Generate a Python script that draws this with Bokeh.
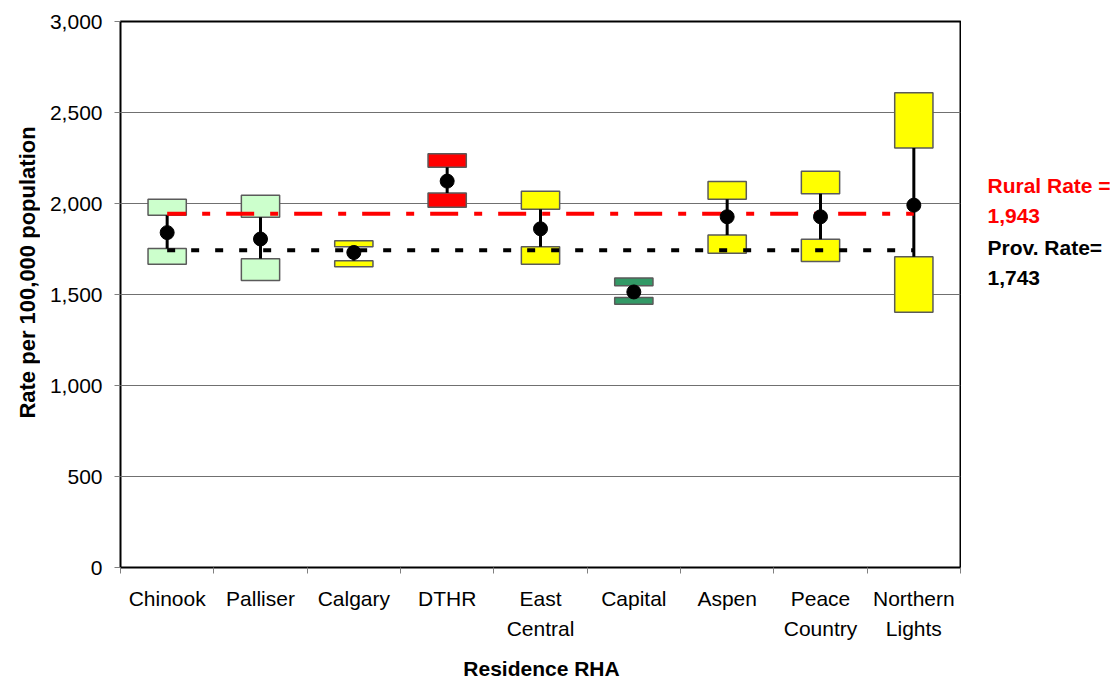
import math
from bokeh.plotting import figure
from bokeh.layouts import row, column
from bokeh.models import ColumnDataSource, FixedTicker, NumeralTickFormatter
from bokeh.core.properties import value
from bokeh.embed import file_html
from bokeh.resources import INLINE

# ---------------- data ----------------
rha = ["Chinook", "Palliser", "Calgary", "DTHR", "East\nCentral", "Capital",
       "Aspen", "Peace\nCountry", "Northern\nLights"]
rate = [1840, 1805, 1731, 2123, 1861, 1514, 1927, 1927, 1991]
upper_top = [2023, 2045, 1795, 2273, 2067, 1590, 2121, 2177, 2609]
upper_bottom = [1936, 1925, 1762, 2199, 1969, 1548, 2023, 2054, 2305]
lower_top = [1753, 1697, 1686, 2058, 1762, 1483, 1827, 1803, 1707]
lower_bottom = [1666, 1577, 1653, 1980, 1666, 1447, 1727, 1682, 1402]
box_colors = ["#CCFFCC", "#CCFFCC", "#FFFF00", "#FF0000", "#FFFF00", "#339966",
              "#FFFF00", "#FFFF00", "#FFFF00"]
rural_rate = 1943
prov_rate = 1743
y_ticks = [0, 500, 1000, 1500, 2000, 2500, 3000]
y_title = "Rate per 100,000 population"
x_title = "Residence RHA"

FONT = "Liberation Sans"
W_TOTAL = 1116
H_TOP = 649                    # height of the row holding the plot
H_BOTTOM = 30                  # strip holding the x-axis title
TOP, BOTTOM = 21, 82           # frame top / bottom borders (px)
Y_RANGE = (0, 3000)
W_LEFT, W_MAIN, W_RIGHT = 40, 921, 155

xc = [i + 0.5 for i in range(len(rha))]
src = ColumnDataSource(dict(x=xc, rate=rate, ut=upper_top, ub=upper_bottom,
                            lt=lower_top, lb=lower_bottom, color=box_colors))


def blank_fig(width, height, x_range, y_range, top=0, bottom=0):
    f = figure(width=width, height=height, x_range=x_range, y_range=y_range,
               output_backend="svg", toolbar_location=None,
               x_axis_location=None, y_axis_location=None,
               min_border_left=0, min_border_right=0,
               min_border_top=top, min_border_bottom=bottom)
    f.grid.visible = False
    f.outline_line_color = None
    f.background_fill_color = "white"
    f.border_fill_color = "white"
    return f


# ---------------- main plot ----------------
p = figure(width=W_MAIN, height=H_TOP, x_range=(0, len(rha)), y_range=Y_RANGE,
           output_backend="svg", toolbar_location=None,
           min_border_left=80, min_border_right=1,
           min_border_top=TOP, min_border_bottom=BOTTOM)
p.background_fill_color = "white"
p.border_fill_color = "white"
p.outline_line_color = "black"
p.outline_line_width = 2

# boxes
p.vbar(x="x", top="ut", bottom="ub", width=0.41, fill_color="color",
       line_color="#5a5a5a", line_width=1.5, source=src)
p.vbar(x="x", top="lt", bottom="lb", width=0.41, fill_color="color",
       line_color="#5a5a5a", line_width=1.5, source=src)
# error lines between boxes
p.segment(x0="x", y0="lt", x1="x", y1="ub", line_color="black", line_width=3, source=src)

# reference lines
p.line(xc, [rural_rate] * len(xc), line_color="#FF0000", line_width=4,
       line_dash="28 16 8 16", line_dash_offset=9)
p.line(xc, [prov_rate] * len(xc), line_color="black", line_width=4,
       line_dash="8 16")

# points
p.scatter(x="x", y="rate", size=14, marker="circle", fill_color="black",
          line_color="black", source=src)

# axes
xa = p.xaxis[0]
xa.ticker = FixedTicker(ticks=xc, minor_ticks=list(range(len(rha) + 1)))
xa.major_label_overrides = {x: name for x, name in zip(xc, rha)}
xa.major_tick_out = 0
xa.major_tick_in = 0
xa.minor_tick_out = 6
xa.minor_tick_in = 0
xa.minor_tick_line_color = "#808080"
xa.axis_line_color = None
xa.major_label_standoff = 13
xa.major_label_text_font = FONT
xa.major_label_text_font_size = "21px"
xa.major_label_text_color = "black"
xa.major_label_text_line_height = 1.34

ya = p.yaxis[0]
ya.ticker = FixedTicker(ticks=y_ticks)
ya.formatter = NumeralTickFormatter(format="0,0")
ya.major_tick_out = 6
ya.major_tick_in = 0
ya.major_tick_line_color = "#808080"
ya.minor_tick_line_color = None
ya.axis_line_color = None
ya.major_label_standoff = 12
ya.major_label_text_font = FONT
ya.major_label_text_font_size = "21px"
ya.major_label_text_color = "black"

p.xgrid.grid_line_color = None
p.ygrid.grid_line_color = "#707070"
p.ygrid.grid_line_width = 1

# ---------------- left: y-axis title ----------------
pl = blank_fig(W_LEFT, H_TOP, (0, W_LEFT), Y_RANGE, TOP, BOTTOM)
pl.text(x=[27], y=[1621], text=[y_title], angle=math.pi / 2,
        text_align="center", text_baseline="middle",
        text_font=value(FONT), text_font_style="bold", text_font_size="22px",
        text_color="black")

# ---------------- right: rate notes ----------------
pr = blank_fig(W_RIGHT, H_TOP, (0, W_RIGHT), Y_RANGE, TOP, BOTTOM)
notes = [("Rural Rate =", 2099, "#FF0000"),
         (f"{rural_rate:,}", 1929, "#FF0000"),
         ("Prov. Rate=", 1758, "black"),
         (f"{prov_rate:,}", 1593, "black")]
pr.text(x=[26] * len(notes), y=[n[1] for n in notes], text=[n[0] for n in notes],
        text_color=[n[2] for n in notes], text_align="left", text_baseline="middle",
        text_font=value(FONT), text_font_style="bold", text_font_size="21px")

# ---------------- bottom: x-axis title ----------------
pb = blank_fig(W_TOTAL, H_BOTTOM, (0, W_TOTAL), (0, H_BOTTOM))
pb.text(x=[W_LEFT + 80 + 840 / 2 + 1], y=[11], text=[x_title],
        text_align="center", text_baseline="alphabetic",
        text_font=value(FONT), text_font_style="bold", text_font_size="21px",
        text_color="black")

layout = column(row(pl, p, pr), pb)
open("out.html", "w").write(file_html(layout, INLINE))
